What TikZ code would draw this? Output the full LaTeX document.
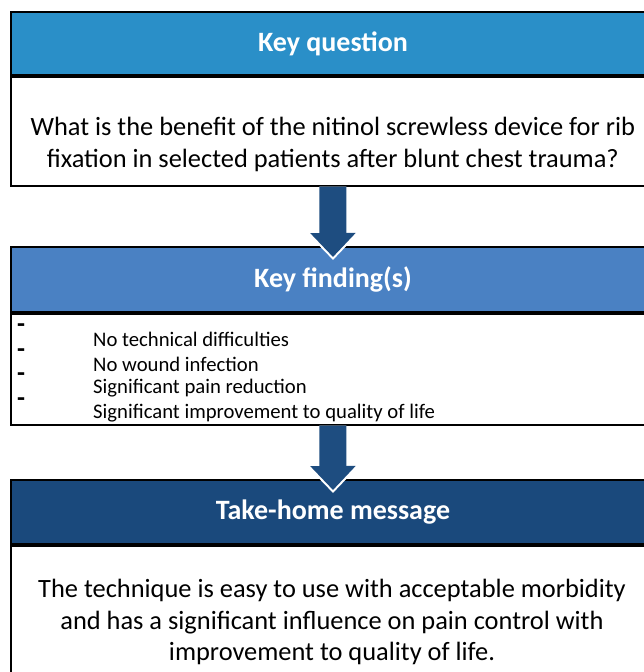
\documentclass[tikz,border=0pt]{standalone}
\usepackage{fontspec}
\setmainfont{Carlito}
\usetikzlibrary{positioning,arrows.meta}

\definecolor{qblue}{HTML}{2A8FC8}
\definecolor{fblue}{HTML}{4A81C3}
\definecolor{tblue}{HTML}{1A497C}
\definecolor{arrblue}{HTML}{1E4D80}

\begin{document}
\begin{tikzpicture}[x=1pt, y=-1pt,
    head/.style = {draw=black, line width=2pt, minimum width=644pt, inner sep=0pt, anchor=north west, text=white, font=\fontsize{28}{32}\selectfont\bfseries},
    box/.style = {draw=black, line width=1.6pt, minimum width=644pt, inner sep=0pt, anchor=north west},
    bodytext/.style = {align=center, inner sep=0pt, font=\fontsize{26.4}{31.5}\selectfont},
    item/.style = {anchor=west, inner sep=0pt, font=\fontsize{20.7}{24}\selectfont},
    dashmark/.style = {inner sep=0pt, font=\fontsize{26}{28}\selectfont\bfseries},
    flow/.style = {arrblue, line width=27pt, -{Triangle[width=44pt,length=24pt]}},
    halo/.style = {white, line width=27pt, shorten >=-3pt, -{Triangle[width=52pt,length=28pt]}}]
  \useasboundingbox (0,0) rectangle (644,672);

  % key question
  \node[head, fill=qblue, minimum height=63pt] (qhead) at (10,11) {Key question};
  \node[box, minimum height=109pt] (qbody) at (qhead.south west) {};
  \node[bodytext] (qtext) at (qbody.center) [yshift=-13pt] {What is the benefit of the nitinol screwless device for rib\\fixation in selected patients after blunt chest trauma?};

  % key findings
  \node[head, fill=fblue, minimum height=65pt] (fhead) at (10,246) {Key finding(s)};
  \node[box, minimum height=111pt] (fbody) at (fhead.south west) {};
  \foreach \t [count=\i] in {No technical difficulties, No wound infection, Significant pain reduction, Significant improvement to quality of life} {
    \node[dashmark] (dash\i) at (21, 304+24.5*\i) {-};
    \node[item] (find\i) at (93, 315+24.5*\i) {\t};
  }

  % take-home message
  \node[head, fill=tblue, minimum height=64pt] (thead) at (10,479) {Take-home message};
  \node[box, minimum height=160pt] (tbody) at (thead.south west) {};
  \node[bodytext] (ttext) at (332,622) {The technique is easy to use with acceptable morbidity\\and has a significant influence on pain control with\\improvement to quality of life.};

  % arrows
  \draw[halo] (qbody.south) -- ([yshift=-11pt]fhead.north);
  \draw[flow] (qbody.south) -- ([yshift=-11pt]fhead.north);
  \draw[halo] (fbody.south) -- ([yshift=-11pt]thead.north);
  \draw[flow] (fbody.south) -- ([yshift=-11pt]thead.north);
\end{tikzpicture}
\end{document}
